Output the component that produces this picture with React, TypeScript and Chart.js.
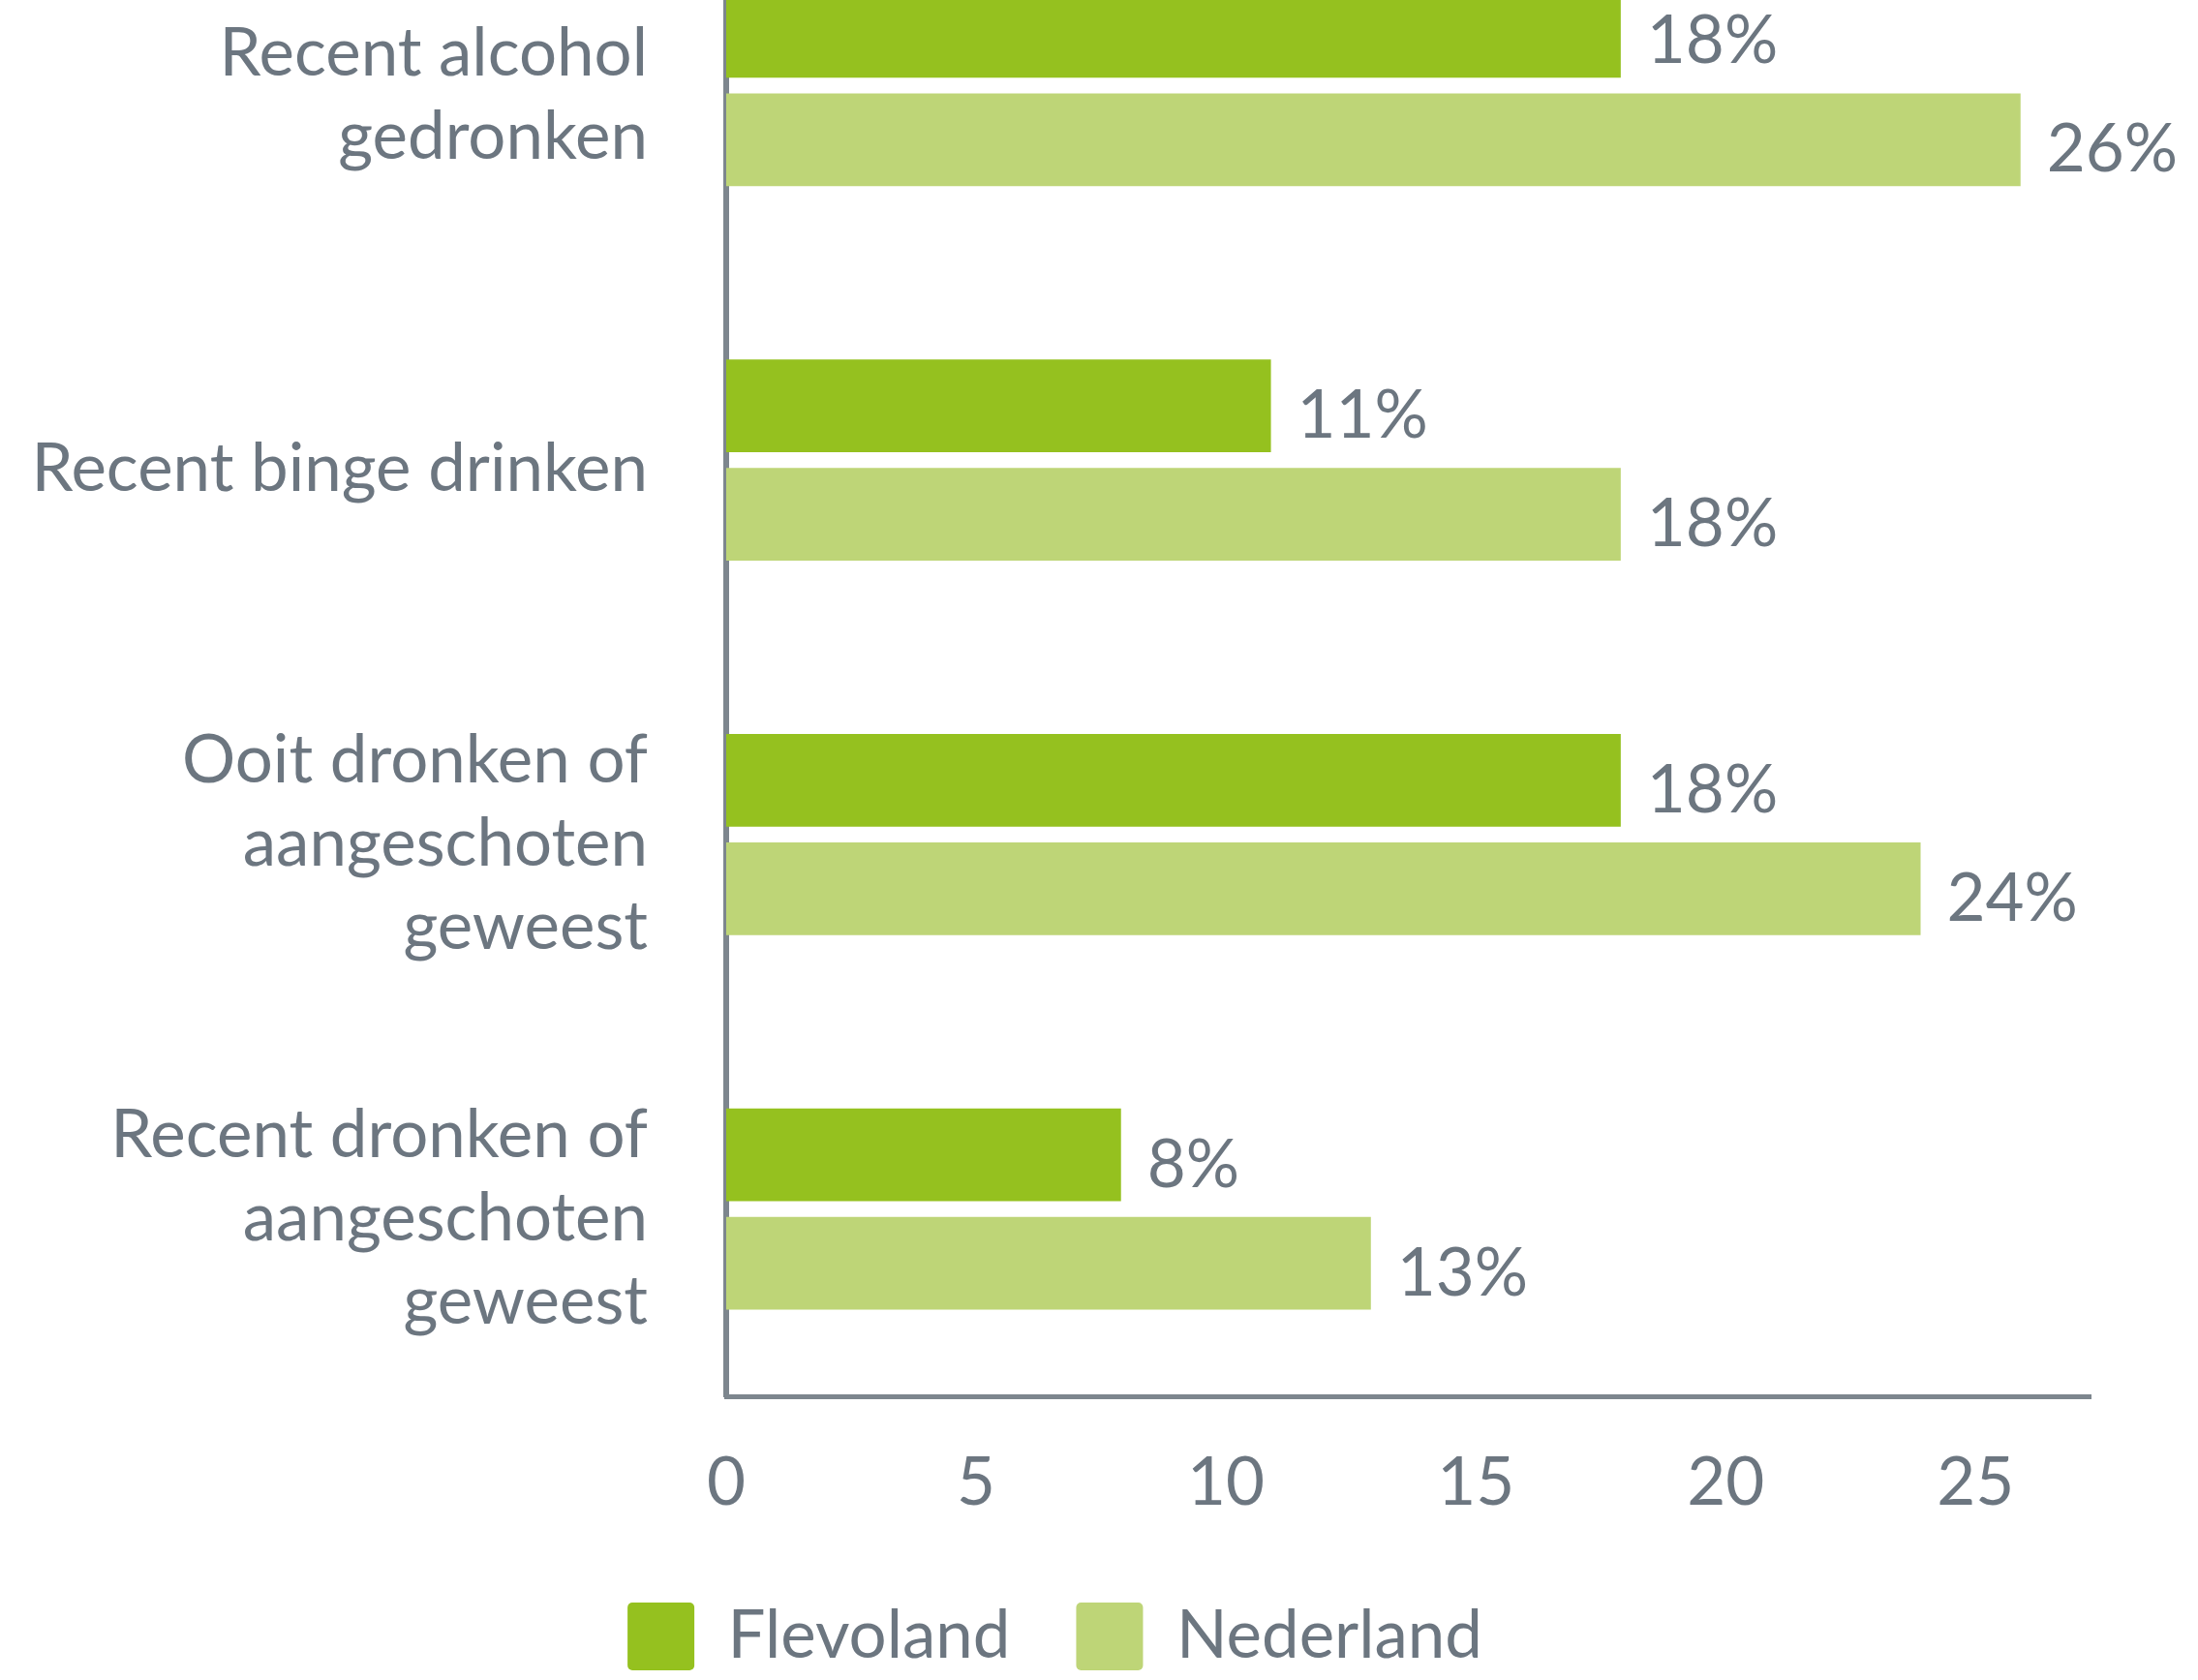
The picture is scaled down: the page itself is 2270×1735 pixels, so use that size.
import React, { useEffect, useRef } from "react";
import { Chart, registerables } from "chart.js";

Chart.register(...registerables);

const categories: string[][] = [
  ["Recent alcohol", "gedronken"],
  ["Recent binge drinken"],
  ["Ooit dronken of", "aangeschoten", "geweest"],
  ["Recent dronken of", "aangeschoten", "geweest"],
];
const seriesNames = ["Flevoland", "Nederland"];
const flevoland = [17.9, 10.9, 17.9, 7.9];
const nederland = [25.9, 17.9, 23.9, 12.9];
const xTicks = [0, 5, 10, 15, 20, 25];
const xMax = 27.3;

const COLORS = ["#95c11f", "#bed577"];
const TEXT = "#6c7680";
const AXIS = "#7d868e";
const FONT = "Lato";
const FS = 69;

const valueLabels = {
  id: "valueLabels",
  afterDatasetsDraw(chart: any) {
    const ctx = chart.ctx;
    ctx.save();
    ctx.fillStyle = TEXT;
    ctx.font = `${FS}px ${FONT}`;
    ctx.textAlign = "left";
    ctx.textBaseline = "alphabetic";
    chart.data.datasets.forEach((ds: any, i: number) => {
      const meta = chart.getDatasetMeta(i);
      meta.data.forEach((el: any, j: number) => {
        ctx.fillText(`${Math.round(ds.data[j])}%`, el.x + 27, el.y + 33);
      });
    });
    ctx.restore();
  },
};

export default function App() {
  const ref = useRef<HTMLCanvasElement>(null);
  useEffect(() => {
    const chart = new Chart(ref.current!, {
      type: "bar",
      data: {
        labels: categories,
        datasets: [
          { label: seriesNames[0], data: flevoland, backgroundColor: COLORS[0], borderWidth: 0, borderRadius: 0 },
          { label: seriesNames[1], data: nederland, backgroundColor: COLORS[1], borderWidth: 0, borderRadius: 0 },
        ],
      },
      options: {
        indexAxis: "y",
        animation: false,
        responsive: false,
        maintainAspectRatio: false,
        devicePixelRatio: 1,
        datasets: { bar: { categoryPercentage: 0.58, barPercentage: 0.853 } },
        layout: { padding: { left: 20, right: 111, top: 0, bottom: 0 } },
        plugins: {
          tooltip: { enabled: false },
          title: { display: false },
          legend: {
            position: "bottom",
            align: "center",
            labels: {
              color: TEXT,
              font: { family: FONT, size: FS },
              boxWidth: 69,
              boxHeight: 70,
              padding: 68,
              useBorderRadius: true,
              borderRadius: 5,
            },
          },
        },
        scales: {
          x: {
            type: "linear",
            min: 0,
            max: xMax,
            afterFit: (s: any) => {
              s.height = 145;
              s.paddingLeft = 0;
              s.paddingRight = 0;
            },
            afterBuildTicks: (s: any) => { s.ticks = xTicks.map((v) => ({ value: v })); },
            grid: { display: false, drawTicks: false },
            border: { display: true, color: AXIS, width: 5 },
            ticks: { color: TEXT, font: { family: FONT, size: FS }, padding: 48, includeBounds: false },
          },
          y: {
            type: "category",
            afterFit: (s: any) => {
              s.width = 730;
              s.paddingTop = 0;
              s.paddingBottom = 0;
              if (!s.__shifted) {
                const orig = s.drawLabels;
                s.drawLabels = function (area: any) {
                  const c = this.ctx;
                  c.save();
                  c.translate(0, 10);
                  orig.call(this, area);
                  c.restore();
                };
                s.__shifted = true;
              }
            },
            grid: { display: false, drawTicks: false },
            border: { display: true, color: AXIS, width: 6 },
            ticks: { color: TEXT, font: { family: FONT, size: FS, lineHeight: 1.25 }, padding: 81 },
          },
        },
      },
      plugins: [valueLabels],
    });
    return () => chart.destroy();
  }, []);
  return (
    <div style={{ position: "fixed", left: 0, top: -105, width: 2270, height: 1840, background: "#fff" }}>
      <canvas ref={ref} width={2270} height={1840} style={{ display: "block", width: 2270, height: 1840 }} />
    </div>
  );
}
